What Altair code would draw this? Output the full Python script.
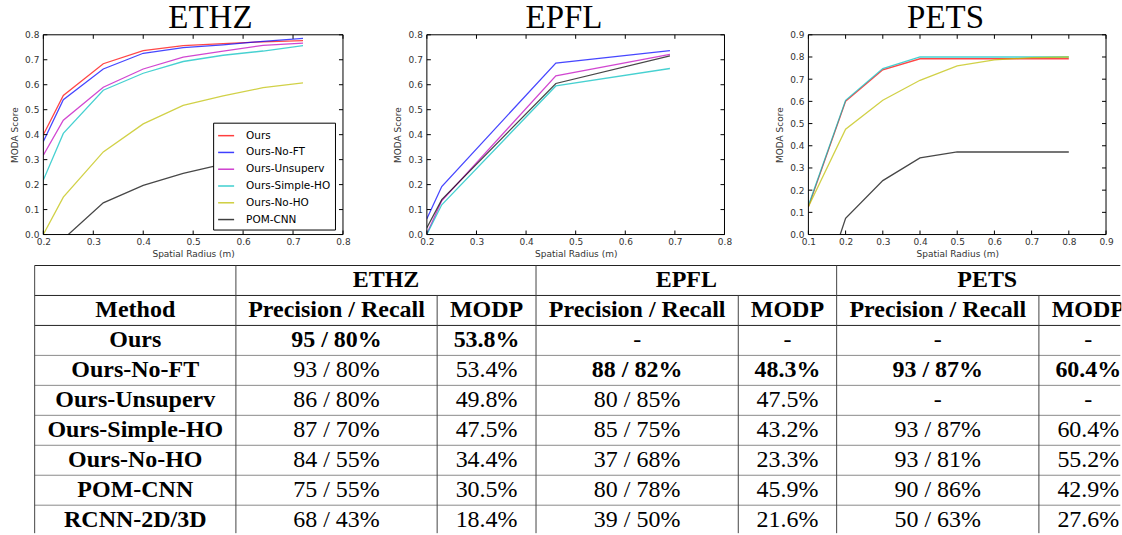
import altair as alt
import pandas as pd

# ---------------- MODA curves (score vs spatial radius) ----------------
ETHZ_R = [0.2, 0.24, 0.32, 0.4, 0.48, 0.56, 0.64, 0.72]
ETHZ_OURS = [0.400, 0.557, 0.684, 0.737, 0.757, 0.765, 0.772, 0.777]
ETHZ_NO_FT = [0.373, 0.540, 0.663, 0.726, 0.749, 0.760, 0.774, 0.786]
ETHZ_UNSUP = [0.318, 0.458, 0.590, 0.663, 0.711, 0.735, 0.758, 0.767]
ETHZ_SIMPLE = [0.218, 0.405, 0.578, 0.646, 0.693, 0.718, 0.735, 0.757]
ETHZ_NO_HO = [0.000, 0.150, 0.331, 0.443, 0.517, 0.555, 0.588, 0.607]
ETHZ_POM = [-0.200, -0.018, 0.127, 0.197, 0.245, 0.282, 0.312, 0.340]

EPFL_R = [0.2, 0.23, 0.46, 0.69]
EPFL_NO_FT = [0.063, 0.192, 0.687, 0.737]
EPFL_UNSUP = [0.003, 0.135, 0.636, 0.722]
EPFL_SIMPLE = [0.000, 0.119, 0.595, 0.665]
EPFL_POM = [0.027, 0.140, 0.605, 0.716]

PETS_R = [0.1, 0.2, 0.3, 0.4, 0.5, 0.6, 0.7, 0.8]
PETS_OURS = [0.125, 0.600, 0.742, 0.792, 0.792, 0.792, 0.792, 0.792]
PETS_SIMPLE = [0.130, 0.605, 0.748, 0.800, 0.800, 0.800, 0.800, 0.800]
PETS_NO_HO = [0.125, 0.475, 0.605, 0.695, 0.760, 0.787, 0.797, 0.800]
PETS_POM = [-0.430, 0.073, 0.243, 0.345, 0.372, 0.372, 0.372, 0.372]

# ---------------- detection results table ----------------
METHODS = ["Ours", "Ours-No-FT", "Ours-Unsuperv", "Ours-Simple-HO",
           "Ours-No-HO", "POM-CNN", "RCNN-2D/3D"]
DATASETS = ["ETHZ", "EPFL", "PETS"]
ETHZ_PR = ["95 / 80%", "93 / 80%", "86 / 80%", "87 / 70%", "84 / 55%", "75 / 55%", "68 / 43%"]
ETHZ_MODP = ["53.8%", "53.4%", "49.8%", "47.5%", "34.4%", "30.5%", "18.4%"]
EPFL_PR = ["-", "88 / 82%", "80 / 85%", "85 / 75%", "37 / 68%", "80 / 78%", "39 / 50%"]
EPFL_MODP = ["-", "48.3%", "47.5%", "43.2%", "23.3%", "45.9%", "21.6%"]
PETS_PR = ["-", "93 / 87%", "-", "93 / 87%", "93 / 81%", "90 / 86%", "50 / 63%"]
PETS_MODP = ["-", "60.4%", "-", "60.4%", "55.2%", "42.9%", "27.6%"]
BEST_ROW = [0, 1, 1]  # row printed in bold for each dataset

COLORS = {
    "Ours": "#ff0000",
    "Ours-No-FT": "#0000ff",
    "Ours-Unsuperv": "#bf00bf",
    "Ours-Simple-HO": "#00bfbf",
    "Ours-No-HO": "#bfbf00",
    "POM-CNN": "#000000",
}

PH = 200                   # plot height of each curve panel
SANS = "DejaVu Sans"
SERIF = "Times New Roman, Liberation Serif, serif"
PAD_LEFT, PAD_TOP = 9.4, 1.5


def panel(title, title_dx, pw, radii, series, xdom, xticks, ydom, yticks, lx, ly):
    names = list(series.keys())
    rows = [{"method": m, "r": r, "moda": v}
            for m in names for r, v in zip(radii, series[m])]
    df = pd.DataFrame(rows)
    xs = alt.Scale(domain=xdom, nice=False, zero=False)
    ys = alt.Scale(domain=ydom, nice=False, zero=False)
    xaxis = alt.Axis(title="Spatial Radius (m)", values=xticks, format=".1f",
                     ticks=False, tickSize=0, domain=False, grid=False,
                     labelPadding=3, titlePadding=3, labelFlush=False, labelOverlap=False)
    yaxis = alt.Axis(title="MODA Score", values=yticks, format=".1f",
                     ticks=False, tickSize=0, domain=False, grid=False,
                     labelPadding=4.5, titlePadding=5.5, labelFlush=False, labelOverlap=False)

    lines = alt.Chart(df).mark_line(clip=True, strokeWidth=1.3, opacity=0.72).encode(
        x=alt.X("r:Q", scale=xs, axis=xaxis),
        y=alt.Y("moda:Q", scale=ys, axis=yaxis),
        color=alt.Color("method:N",
                        scale=alt.Scale(domain=names, range=[COLORS[m] for m in names]),
                        legend=alt.Legend(
                            orient="none", legendX=lx, legendY=ly, title=None,
                            strokeColor="black", fillColor="white", padding=4,
                            symbolType="stroke", symbolSize=256, symbolStrokeWidth=1.5,
                            symbolOpacity=0.75, labelFont=SANS, labelFontSize=10.5,
                            labelColor="black", labelOffset=11, rowPadding=1.8,
                            cornerRadius=0)),
    )

    # inward tick marks on all four sides of the frame
    xt = alt.Chart(pd.DataFrame({"r": xticks}))
    yt = alt.Chart(pd.DataFrame({"moda": yticks}))
    tick = dict(color="black", strokeWidth=1)
    ticks = [
        xt.mark_rule(**tick).encode(x=alt.X("r:Q", scale=xs, axis=xaxis),
                                    y=alt.value(PH), y2=alt.value(PH - 4)),
        xt.mark_rule(**tick).encode(x=alt.X("r:Q", scale=xs, axis=xaxis),
                                    y=alt.value(0), y2=alt.value(4)),
        yt.mark_rule(**tick).encode(y=alt.Y("moda:Q", scale=ys, axis=yaxis),
                                    x=alt.value(0), x2=alt.value(4)),
        yt.mark_rule(**tick).encode(y=alt.Y("moda:Q", scale=ys, axis=yaxis),
                                    x=alt.value(pw - 4), x2=alt.value(pw)),
    ]
    frame = alt.Chart(pd.DataFrame({"f": [0]})).mark_rect(
        filled=False, stroke="black", strokeWidth=1).encode(
        x=alt.value(0), x2=alt.value(pw), y=alt.value(0), y2=alt.value(PH))

    # panel heading set just above the frame
    heading = alt.Chart(pd.DataFrame({"t": [title]})).mark_text(
        font=SERIF, fontSize=33, color="black", align="center",
        baseline="alphabetic").encode(
        x=alt.value(pw / 2 + title_dx), y=alt.value(-6.5), text="t:N")

    return alt.layer(lines, *ticks, frame, heading).properties(width=pw, height=PH)


ethz = panel("ETHZ", 17.3, 300, ETHZ_R,
             {"Ours": ETHZ_OURS, "Ours-No-FT": ETHZ_NO_FT, "Ours-Unsuperv": ETHZ_UNSUP,
              "Ours-Simple-HO": ETHZ_SIMPLE, "Ours-No-HO": ETHZ_NO_HO, "POM-CNN": ETHZ_POM},
             [0.2, 0.8], [0.2, 0.3, 0.4, 0.5, 0.6, 0.7, 0.8],
             [0, 0.8], [0, 0.1, 0.2, 0.3, 0.4, 0.5, 0.6, 0.7, 0.8], 170, 88)
epfl = panel("EPFL", -11.7, 298, EPFL_R,
             {"Ours-No-FT": EPFL_NO_FT, "Ours-Unsuperv": EPFL_UNSUP,
              "Ours-Simple-HO": EPFL_SIMPLE, "POM-CNN": EPFL_POM},
             [0.2, 0.8], [0.2, 0.3, 0.4, 0.5, 0.6, 0.7, 0.8],
             [0, 0.8], [0, 0.1, 0.2, 0.3, 0.4, 0.5, 0.6, 0.7, 0.8], 170, 123)
pets = panel("PETS", -11.7, 298, PETS_R,
             {"Ours": PETS_OURS, "Ours-Simple-HO": PETS_SIMPLE,
              "Ours-No-HO": PETS_NO_HO, "POM-CNN": PETS_POM},
             [0.1, 0.9], [0.1, 0.2, 0.3, 0.4, 0.5, 0.6, 0.7, 0.8, 0.9],
             [0, 0.9], [0, 0.1, 0.2, 0.3, 0.4, 0.5, 0.6, 0.7, 0.8, 0.9], 171, 123)

# ---------------- table layout (page pixel units) ----------------
# the table panel shares its left edge with the first curve panel's frame
ORIGIN_X, ORIGIN_Y = 42.7, 261.0
TW, TH = 1122 - ORIGIN_X, 535 - ORIGIN_Y
RIGHT, BOTTOM = ORIGIN_X + TW - 1, ORIGIN_Y + TH - 1   # last visible page pixel
TBL_X, TBL_Y, ROW_H = 34.0, 266.0, 30.0
COL_W = [201.5, 201.5, 99.0, 202.5, 98.5, 202.5, 99.0]

edges = [TBL_X]
for w in COL_W:
    edges.append(edges[-1] + w)
n_rows = 2 + len(METHODS)
bottom = TBL_Y + n_rows * ROW_H

# grid lines, cut at the page edge
rules = []
for k in range(n_rows + 1):
    yk = TBL_Y + k * ROW_H
    if yk <= BOTTOM:
        rules.append({"x": edges[0], "x2": min(edges[-1], RIGHT), "y": yk, "y2": yk,
                      "c": "#222222" if k <= 2 else "#8a8a8a"})
for i, e in enumerate(edges):
    if e <= RIGHT:
        top = TBL_Y + ROW_H if i in (2, 4, 6) else TBL_Y
        rules.append({"x": e, "x2": e, "y": top, "y2": min(bottom, BOTTOM), "c": "#444444"})
rules_df = pd.DataFrame(rules)


def cx(i):
    return (edges[i] + edges[i + 1]) / 2


def cy(row):
    return TBL_Y + (row + 0.5) * ROW_H


cells = []
for d, name in enumerate(DATASETS):
    cells.append({"x": (edges[1 + 2 * d] + edges[3 + 2 * d]) / 2, "y": cy(0), "t": name, "w": "bold"})
cells.append({"x": cx(0), "y": cy(1), "t": "Method", "w": "bold"})
for d in range(3):
    cells.append({"x": cx(1 + 2 * d), "y": cy(1), "t": "Precision / Recall", "w": "bold"})
    cells.append({"x": cx(2 + 2 * d), "y": cy(1), "t": "MODP", "w": "bold"})
columns = [(ETHZ_PR, ETHZ_MODP), (EPFL_PR, EPFL_MODP), (PETS_PR, PETS_MODP)]
for r, m in enumerate(METHODS):
    cells.append({"x": cx(0), "y": cy(2 + r), "t": m, "w": "bold"})
    for d, (pr, modp) in enumerate(columns):
        w = "bold" if BEST_ROW[d] == r else "normal"
        cells.append({"x": cx(1 + 2 * d), "y": cy(2 + r), "t": pr[r], "w": w})
        cells.append({"x": cx(2 + 2 * d), "y": cy(2 + r), "t": modp[r], "w": w})
cells_df = pd.DataFrame(cells)

tx = alt.Scale(domain=[ORIGIN_X, ORIGIN_X + TW], nice=False, zero=False)
ty = alt.Scale(domain=[ORIGIN_Y, ORIGIN_Y + TH], nice=False, zero=False, reverse=True)

rule_layer = alt.Chart(rules_df).mark_rule(strokeWidth=1).encode(
    x=alt.X("x:Q", scale=tx, axis=None), x2="x2:Q",
    y=alt.Y("y:Q", scale=ty, axis=None), y2="y2:Q",
    color=alt.Color("c:N", scale=None),
)
# text is clipped to the panel so the last column is cut at the page edge
text_layers = [
    alt.Chart(cells_df).transform_filter(alt.datum.w == wt).mark_text(
        font=SERIF, fontSize=24, fontWeight=wt, color="black",
        align="center", baseline="middle", clip=True).encode(
        x=alt.X("x:Q", scale=tx, axis=None),
        y=alt.Y("y:Q", scale=ty, axis=None),
        text="t:N")
    for wt in ("bold", "normal")
]
table = alt.layer(rule_layer, *text_layers).properties(width=TW, height=TH)

chart = alt.vconcat(
    alt.hconcat(ethz, epfl, pets, spacing=42),
    table,
    spacing=2,
).properties(
    padding={"left": PAD_LEFT, "top": PAD_TOP, "right": 0, "bottom": 0},
    background="white",
).configure_view(strokeWidth=0).configure_axis(
    labelFont=SANS, labelFontSize=9, labelColor="#333333",
    titleFont=SANS, titleFontSize=9, titleFontWeight="normal", titleColor="#333333",
)

chart.save("out.html", embed_options={"renderer": "svg", "actions": False})
